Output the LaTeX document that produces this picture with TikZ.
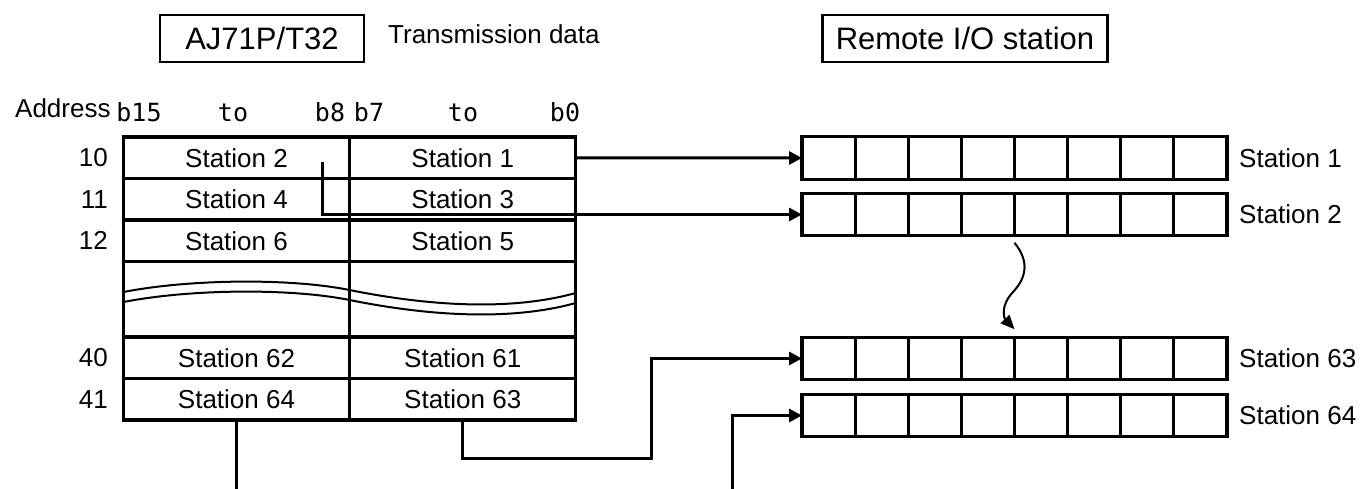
\documentclass[tikz,border=0pt]{standalone}
\usepackage{fontspec}
\setmainfont{Liberation Sans}
\newfontfamily\bitfont{DejaVu Sans Mono}
\usetikzlibrary{arrows.meta,calc}
\begin{document}
\begin{tikzpicture}[x=1pt,y=-1pt,
  cellbox/.style={draw,line width=3.2pt,minimum width=226pt,minimum height=41.5pt,
    inner sep=0pt,outer sep=0pt,font=\fontsize{26}{30}\selectfont},
  gapbox/.style={draw,line width=3.2pt,minimum width=226pt,minimum height=75.5pt,
    inner sep=0pt,outer sep=0pt},
  regbox/.style={draw,line width=3.2pt,minimum width=425pt,minimum height=42.5pt,
    inner sep=0pt,outer sep=0pt},
  lbl/.style={inner sep=0pt,font=\fontsize{26}{30}\selectfont},
  bitlbl/.style={inner sep=0pt,anchor=base,font=\bitfont\fontsize{25}{29}\selectfont},
  titlebox/.style={draw,line width=2.6pt,minimum height=47pt,inner sep=0pt,
    font=\fontsize{31}{36}\selectfont},
  link/.style={line width=3pt},
  arr/.style={line width=3pt,-{Triangle[length=13pt,width=13pt]}},
  wave/.style={line width=2pt},
]
\useasboundingbox[fill=white] (0,0) rectangle (1363,489);

% headings
\node[titlebox,minimum width=204pt] (aj) at (262,38.5) {AJ71P/T32};
\node[lbl,anchor=west] (tx) at (388,34) {Transmission data};
\node[titlebox,minimum width=285pt] (rio) at (965,38.5) {Remote I/O station};

% column headings
\node[lbl,anchor=base west] (addr) at (15,118) {Address};
\node[bitlbl] (b15) at (139,122) {b15};
\node[bitlbl] (to1) at (233,122) {to};
\node[bitlbl] (b8) at (330,122) {b8};
\node[bitlbl] (b7) at (369,122) {b7};
\node[bitlbl] (to2) at (463,122) {to};
\node[bitlbl] (b0) at (565,122) {b0};

% transmission data table
\node[cellbox] (s2)  at (236.5,157.75) {Station 2};
\node[cellbox] (s1)  at (462.75,157.75) {Station 1};
\node[cellbox] (s4)  at (236.5,199.25) {Station 4};
\node[cellbox] (s3)  at (462.75,199.25) {Station 3};
\node[cellbox] (s6)  at (236.5,240.75) {Station 6};
\node[cellbox] (s5)  at (462.75,240.75) {Station 5};
\node[gapbox]  (gl)  at (236.5,299.25) {};
\node[gapbox]  (gr)  at (462.75,299.25) {};
\node[cellbox] (s62) at (236.5,357.75) {Station 62};
\node[cellbox] (s61) at (462.75,357.75) {Station 61};
\node[cellbox] (s64) at (236.5,399.25) {Station 64};
\node[cellbox] (s63) at (462.75,399.25) {Station 63};

% break marks across the omitted rows
\draw[wave] (gl.west |- 0,292) .. controls (190,279) and (290,278) .. (349.5,290)
  .. controls (409,302) and (500,314) .. (gr.east |- 0,293);
\draw[wave] (gl.west |- 0,302) .. controls (190,289) and (290,288) .. (349.5,300)
  .. controls (409,312) and (500,324) .. (gr.east |- 0,303);

% addresses
\node[lbl,anchor=east] (a10) at (108,157.75) {10};
\node[lbl,anchor=east] (a11) at (108,199.25) {11};
\node[lbl,anchor=east] (a12) at (108,240.75) {12};
\node[lbl,anchor=east] (a40) at (108,357.75) {40};
\node[lbl,anchor=east] (a41) at (108,399.25) {41};

% remote I/O station registers
\node[regbox] (r1)  at (1014.5,158)   {};
\node[regbox] (r2)  at (1014.5,214.5) {};
\node[regbox] (r63) at (1014.5,358.5) {};
\node[regbox] (r64) at (1014.5,415.5) {};
\foreach \r in {r1,r2,r63,r64}{
  \foreach \i in {1,...,7}{
    \draw[line width=3pt] ($(\r.north west)!\i/8!(\r.north east)$) --
                          ($(\r.south west)!\i/8!(\r.south east)$);
  }
}
\node[lbl,anchor=west] (l1)  at ([xshift=12pt]r1.east)  {Station 1};
\node[lbl,anchor=west] (l2)  at ([xshift=12pt]r2.east)  {Station 2};
\node[lbl,anchor=west] (l63) at ([xshift=12pt]r63.east) {Station 63};
\node[lbl,anchor=west] (l64) at ([xshift=12pt]r64.east) {Station 64};

% transfer paths
\coordinate (c2) at (322,162);
\coordinate (e64) at (s64.south |- 0,489);
\coordinate (f64) at (732,489);
\draw[arr] (s1.east) -- (r1.west);
\draw[arr] (c2) |- (r2.west);
\draw[arr] (s63.south) |- (651,458) |- (r63.west);
\draw[link] (s64.south) -- (e64);
\draw[arr] (f64) |- (r64.west);

% continuation between the register groups
\draw[line width=2pt,-{Triangle[length=14pt,width=12pt]}]
  ([yshift=-7pt]r2.south) .. controls (1030,262) and (1026,278) .. (1013,292)
  .. controls (1000,306) and (1004,318) .. ([yshift=8pt]r63.north);
\end{tikzpicture}
\end{document}
